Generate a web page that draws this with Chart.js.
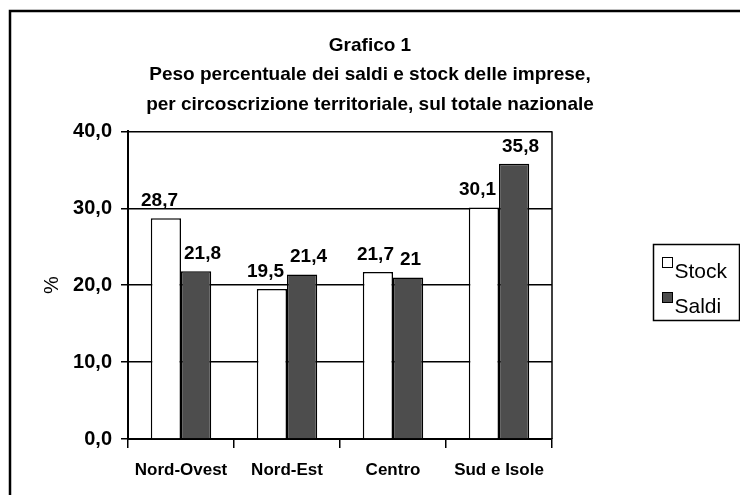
<!DOCTYPE html>
<html>
<head>
<meta charset="utf-8">
<title>Grafico 1</title>
<script src="https://cdn.jsdelivr.net/npm/chart.js@4.4.1/dist/chart.umd.min.js"></script>
<style>
  html, body { margin: 0; padding: 0; background: #fff; }
  #wrap { position: relative; width: 740px; height: 495px; }
</style>
</head>
<body>
<div id="wrap"><canvas id="chart" width="740" height="495"></canvas></div>
<script>
// Data
const regions = ['Nord-Ovest', 'Nord-Est', 'Centro', 'Sud e Isole'];
const stockValues = [28.7, 19.5, 21.7, 30.1];
const saldiValues = [21.8, 21.4, 21, 35.8];
const yTickLabels = ['0,0', '10,0', '20,0', '30,0', '40,0'];
const titleLines = [
    'Grafico 1',
    'Peso percentuale dei saldi e stock delle imprese,',
    'per circoscrizione territoriale, sul totale nazionale'
];

const FONT = "'Liberation Sans', Arial, Helvetica, sans-serif";

// italian number format: 28.7 -> "28,7", 21 -> "21"
function formatValue(v) {
    return String(v).replace('.', ',');
}

// Outer frame, plot box right edge, value labels and boxed legend
const decorations = {
    id: 'decorations',
    beforeDraw(chart) {
        const ctx = chart.ctx;
        ctx.save();
        ctx.strokeStyle = '#000';
        ctx.lineWidth = 2.5;
        ctx.beginPath();
        ctx.moveTo(10, 600);
        ctx.lineTo(10, 11);
        ctx.lineTo(800, 11);
        ctx.stroke();
        ctx.restore();
    },
    afterDraw(chart) {
        const ctx = chart.ctx;
        const area = chart.chartArea;
        ctx.save();

        // right edge of the plot box
        ctx.strokeStyle = '#000';
        ctx.lineWidth = 1.5;
        ctx.beginPath();
        ctx.moveTo(area.right, area.top);
        ctx.lineTo(area.right, area.bottom);
        ctx.stroke();

        // value labels over the bars, pushed apart when they would touch
        ctx.fillStyle = '#000';
        ctx.font = 'bold 19px ' + FONT;
        ctx.textAlign = 'center';
        ctx.textBaseline = 'alphabetic';
        const left = chart.getDatasetMeta(0).data;
        const right = chart.getDatasetMeta(1).data;
        chart.data.labels.forEach((_, j) => {
            const t1 = formatValue(chart.data.datasets[0].data[j]);
            const t2 = formatValue(chart.data.datasets[1].data[j]);
            const w1 = ctx.measureText(t1).width;
            const w2 = ctx.measureText(t2).width;
            let x1 = left[j].x, x2 = right[j].x;
            const overlap = (x1 + w1 / 2 + 6) - (x2 - w2 / 2);
            if (overlap > 0) {
                x1 -= overlap / 2;
                x2 += overlap / 2;
            }
            ctx.fillText(t1, x1, left[j].y - 12);
            ctx.fillText(t2, x2, right[j].y - 12);
        });

        // legend box
        const lx = 653.5, ly = 244.5, lw = 86, lh = 76;
        ctx.lineWidth = 1.5;
        ctx.strokeRect(lx, ly, lw, lh);
        ctx.font = '21px ' + FONT;
        ctx.textAlign = 'left';
        chart.data.datasets.forEach((ds, i) => {
            const top = ly + 13 + i * 35;
            ctx.fillStyle = ds.backgroundColor;
            ctx.fillRect(lx + 9, top, 10, 10);
            ctx.lineWidth = 1;
            ctx.strokeRect(lx + 9, top, 10, 10);
            ctx.fillStyle = '#000';
            ctx.fillText(ds.label, lx + 21, top + 20);
        });
        ctx.restore();
    }
};

new Chart(document.getElementById('chart').getContext('2d'), {
    type: 'bar',
    data: {
        labels: regions,
        datasets: [
            {
                label: 'Stock',
                data: stockValues,
                backgroundColor: '#ffffff',
                borderColor: '#000000',
                borderWidth: 1.5
            },
            {
                label: 'Saldi',
                data: saldiValues,
                backgroundColor: '#4d4d4d',
                borderColor: '#000000',
                borderWidth: 1.5
            }
        ]
    },
    options: {
        responsive: false,
        animation: false,
        devicePixelRatio: 1,
        layout: {
            padding: 0
        },
        datasets: {
            bar: { categoryPercentage: 0.57, barPercentage: 1.0 }
        },
        plugins: {
            legend: { display: false },
            tooltip: { enabled: false },
            title: {
                display: true,
                text: titleLines,
                color: '#000',
                font: { family: FONT, size: 19, weight: 'bold', lineHeight: 1.55 },
                padding: { top: 31, bottom: 12 }
            }
        },
        scales: {
            x: {
                ticks: {
                    color: '#000',
                    font: { family: FONT, size: 17, weight: 'bold' },
                    padding: 12
                },
                grid: {
                    offset: true,
                    drawOnChartArea: false,
                    drawTicks: true,
                    tickLength: 9,
                    color: '#000',
                    lineWidth: 1.5
                },
                border: { color: '#000', width: 2 },
                afterFit(scale) { scale.height = 56; }
            },
            y: {
                min: 0,
                max: 40,
                ticks: {
                    stepSize: 10,
                    color: '#000',
                    padding: 9,
                    font: { family: FONT, size: 20, weight: 'bold' },
                    callback: (value, index) => yTickLabels[index]
                },
                grid: {
                    color: '#000',
                    lineWidth: 1.5,
                    drawTicks: true,
                    tickLength: 7
                },
                border: { color: '#000', width: 2 },
                title: {
                    display: true,
                    text: '%',
                    color: '#000',
                    font: { family: FONT, size: 20 },
                    padding: { top: 40, bottom: 0 }
                },
                afterFit(scale) { scale.width = 128; }
            },
            // empty right-hand scale: keeps room for the legend box
            // while the title stays centred on the whole picture
            yRight: {
                position: 'right',
                min: 0,
                max: 40,
                ticks: { display: false },
                grid: { display: false },
                border: { display: false },
                afterFit(scale) { scale.width = 188; }
            }
        }
    },
    plugins: [decorations]
});
</script>
</body>
</html>
